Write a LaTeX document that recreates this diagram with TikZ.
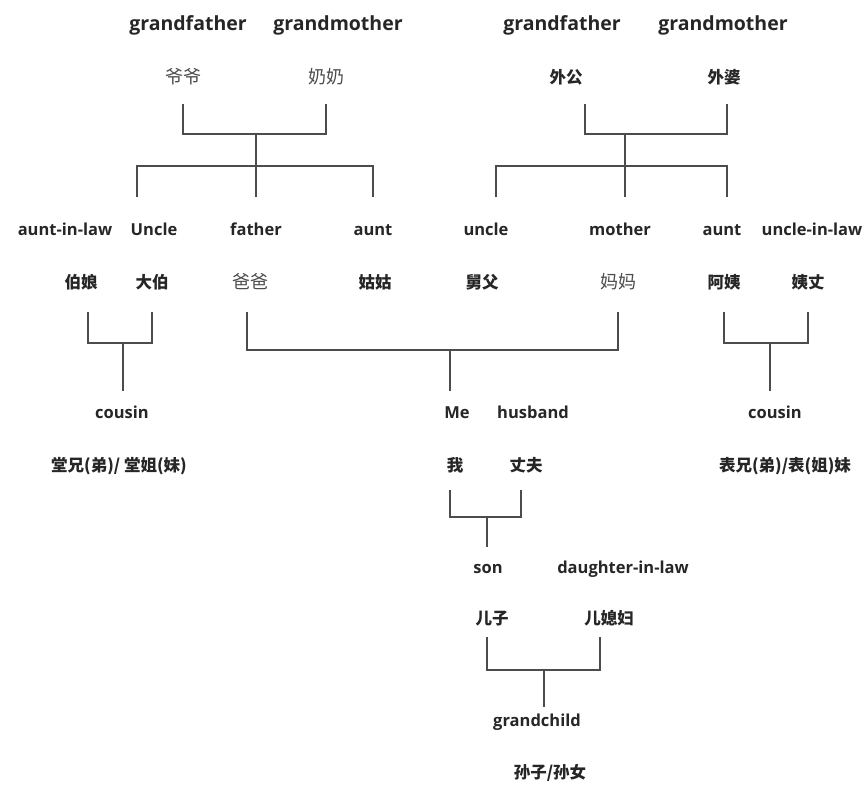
\documentclass[tikz,border=0pt]{standalone}
\usepackage{fontspec}
\setmainfont{Open Sans}
\newfontfamily\cjk{Noto Sans CJK SC}

\begin{document}
\begin{tikzpicture}[x=1pt,y=-1pt]
			\tikzstyle{en} = [
				font = \fontsize{16.5}{18}\selectfont\bfseries, text = black!85,
				inner sep = 0pt, text height = 11pt, text depth = 3pt, outer ysep = 16pt
			]
			\tikzstyle{top} = [en, font = \fontsize{19.5}{22}\selectfont\bfseries]
			\tikzstyle{zh} = [
				font = \cjk\fontsize{16.5}{18}\selectfont\bfseries, text = black!85,
				inner sep = 0pt, text height = 13pt, text depth = 2pt, outer ysep = 18pt
			]
			\tikzstyle{zhl} = [zh, font = \cjk\fontsize{18}{20}\selectfont, text = black!70]
			\tikzstyle{line}=[-,draw=black!70,line width=1.5pt]
			\fill[white] (0,0) rectangle (864,785);
			\useasboundingbox (0,0) rectangle (864,785);
			% grandparents
			\node[top] (gfL) at (188,26) {grandfather};
			\node[top] (gmL) at (338,26) {grandmother};
			\node[top] (gfR) at (562,26) {grandfather};
			\node[top] (gmR) at (723,26) {grandmother};
			\node[zhl] (yeye) at (183,78) {爷爷};
			\node[zhl] (nainai) at (326,78) {奶奶};
			\node[zh] (waigong) at (566,78) {外公};
			\node[zh] (waipo) at (724,78) {外婆};
			% parents' generation
			\node[en] (auntlaw) at (65,231) {aunt-in-law};
			\node[en, outer ysep = 27pt] (uncle) at (154,231) {Uncle};
			\node[en, outer ysep = 27pt] (father) at (256,231) {father};
			\node[en, outer ysep = 27pt] (aunt) at (373,231) {aunt};
			\node[en, outer ysep = 27pt] (uncleM) at (486,231) {uncle};
			\node[en, outer ysep = 27pt] (mother) at (620,231) {mother};
			\node[en, outer ysep = 27pt] (auntM) at (722,231) {aunt};
			\node[en] (unclelaw) at (812,231) {uncle-in-law};
			\node[zh, outer ysep = 21.5pt] (boniang) at (81,283) {伯娘};
			\node[zh, outer ysep = 21.5pt] (dabo) at (152,283) {大伯};
			\node[zhl, outer ysep = 21.5pt] (baba) at (250,283) {爸爸};
			\node[zh, outer ysep = 21.5pt] (gugu) at (375,283) {姑姑};
			\node[zh, outer ysep = 21.5pt] (jiufu) at (482,283) {舅父};
			\node[zhl, outer ysep = 21.5pt] (mama) at (618,283) {妈妈};
			\node[zh, outer ysep = 21.5pt] (ayi) at (724,283) {阿姨};
			\node[zh, outer ysep = 21.5pt] (yizhang) at (808,283) {姨丈};
			% my generation
			\node[en] (cousinL) at (122,414) {cousin};
			\node[en] (me) at (457,414) {Me};
			\node[en] (husband) at (533,414) {husband};
			\node[en] (cousinR) at (775,414) {cousin};
			\node[zh] (tangxiong) at (119,466) {堂兄(弟)/ 堂姐(妹)};
			\node[zh, outer ysep = 16.5pt] (wo) at (455,466) {我};
			\node[zh, outer ysep = 16.5pt] (zhangfu) at (526,466) {丈夫};
			\node[zh] (biaoxiong) at (785,466) {表兄(弟)/表(姐)妹};
			% children
			\node[en, outer ysep = 15pt] (son) at (488,569) {son};
			\node[en] (dil) at (623,569) {daughter-in-law};
			\node[zh, outer ysep = 10.5pt] (erzi) at (492,619) {儿子};
			\node[zh, outer ysep = 10.5pt] (erxifu) at (609,619) {儿媳妇};
			\node[en, outer ysep = 8pt] (grandchild) at (537,722) {grandchild};
			\node[zh] (sunzi) at (550,773) {孙子/孙女};
			% junctions
			\coordinate (jL) at (256,134);
			\coordinate (sL) at (256,166);
			\coordinate (jR) at (625,134);
			\coordinate (sR) at (625,166);
			\coordinate (jC1) at (123,343);
			\coordinate (jP) at (450,350);
			\coordinate (jC2) at (770,343);
			\coordinate (jM) at (487,517);
			\coordinate (jS) at (544,670);
			% father's side
			\draw (yeye.south) |- (jL) -| (nainai.south) [line];
			\draw (jL) to (sL) [line];
			\draw ([xshift=-17pt]uncle.north) |- (sL) -| (aunt.north) [line];
			\draw (sL) to (father.north) [line];
			% mother's side
			\draw ([xshift=19pt]waigong.south) |- (jR) -| ([xshift=3pt]waipo.south) [line];
			\draw (jR) to (sR) [line];
			\draw ([xshift=10pt]uncleM.north) |- (sR) -| ([xshift=5pt]auntM.north) [line];
			\draw (sR) to ([xshift=5pt]mother.north) [line];
			% cousins and me
			\draw ([xshift=7pt]boniang.south) |- (jC1) -| (dabo.south) [line];
			\draw (jC1) to (jC1 |- cousinL.north) [line];
			\draw ([xshift=-3pt]baba.south) |- (jP) -| (mama.south) [line];
			\draw (jP) to (jP |- me.north) [line];
			\draw (ayi.south) |- (jC2) -| (yizhang.south) [line];
			\draw (jC2) to (jC2 |- cousinR.north) [line];
			% son and grandchild
			\draw ([xshift=-5pt]wo.south) |- (jM) -| ([xshift=-5pt]zhangfu.south) [line];
			\draw (jM) to (jM |- son.north) [line];
			\draw ([xshift=-5pt]erzi.south) |- (jS) -| ([xshift=-9pt]erxifu.south) [line];
			\draw (jS) to (jS |- grandchild.north) [line];
		\end{tikzpicture}
\end{document}
